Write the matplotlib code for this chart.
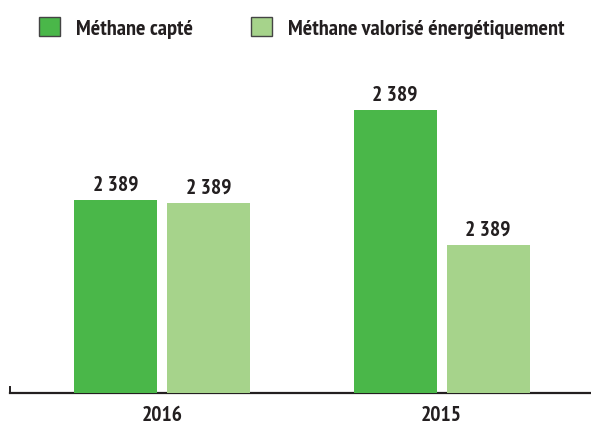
import matplotlib
matplotlib.use("Agg")
import matplotlib.pyplot as plt
from matplotlib.patches import Patch
import numpy as np

categories = ["2016", "2015"]
series_names = ["Méthane capté", "Méthane valorisé énergétiquement"]
capte = [193, 283]
valorise = [190, 148]
capte_labels = ["2 389", "2 389"]
valorise_labels = ["2 389", "2 389"]

dark = "#4ab749"
light = "#a6d38b"
txt = "#231f20"
font = ["PT Sans Narrow", "Asap Condensed", "DejaVu Sans"]

fig = plt.figure(figsize=(5.91, 4.27), dpi=100)
W, H = 591, 427
ax = fig.add_axes([10 / W, (H - 394) / H, (W - 10) / W, (394 - 60) / H])

x = np.arange(len(categories))
w = 83 / 279.5
off = 93 / 2 / 279.5
b1 = ax.bar(x - off, capte, w, color=dark, zorder=3)
b2 = ax.bar(x + off, valorise, w, color=light, zorder=3)

for bars, labs in ((b1, capte_labels), (b2, valorise_labels)):
    for r, lab in zip(bars, labs):
        ax.text(r.get_x() + r.get_width() / 2, r.get_height() + 6, lab,
                ha="center", va="bottom", fontsize=15.5, fontweight="bold",
                color=txt, family=font)

ax.set_xlim(-152 / 279.5, 429 / 279.5)
ax.set_ylim(0, 334)
ax.set_xticks(x)
ax.set_xticklabels(categories, fontsize=15.5, fontweight="bold", color=txt, family=font)
ax.tick_params(axis="x", length=0, pad=9)
ax.set_yticks([])
for s in ("top", "right"):
    ax.spines[s].set_visible(False)
ax.spines["bottom"].set_color(txt)
ax.spines["bottom"].set_linewidth(1.6)
ax.spines["left"].set_color(txt)
ax.spines["left"].set_linewidth(1.4)
ax.spines["left"].set_bounds(0, 6)

handles = [Patch(facecolor=dark, edgecolor="#444444", linewidth=1.0),
           Patch(facecolor=light, edgecolor="#444444", linewidth=1.0)]
leg = fig.legend(handles, series_names, loc="upper left", bbox_to_anchor=(19 / W, 1 + 2 / H),
                 ncol=2, frameon=False, handlelength=0.95, handleheight=0.95,
                 handletextpad=0.72, columnspacing=2.6,
                 prop={"family": font, "weight": "bold", "size": 16})
for t in leg.get_texts():
    t.set_color(txt)

fig.savefig("out.png", dpi=100)
